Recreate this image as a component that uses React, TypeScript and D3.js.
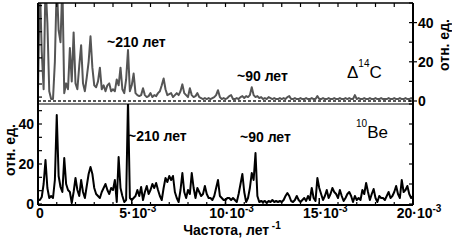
import React from 'react'
import * as d3 from 'd3'

// spectra sampled every 1e-4 year^-1, from 0 to 20e-3
const FREQ_STEP = 1e-4

// Δ14C power (upper panel, rel. units); values above 50 are off scale
const c14 = [
  5, 60, 25, 6, 60, 40, 5, 1, 1, 20,
  60, 36, 30, 60, 4, 9, 6, 27, 10, 35,
  9, 6, 18, 28.5, 9, 5, 12, 20, 33, 17,
  8, 7, 10, 17, 6, 8, 5, 8, 9, 5,
  6, 5, 11, 8, 17, 6, 4, 11, 26, 5,
  8, 14, 4, 3, 2.5, 3, 6.5, 3, 2, 2.5,
  4, 2, 3, 2.5, 4, 5, 8, 11.5, 6, 3,
  3.5, 4, 2, 3, 4, 3, 5, 8.5, 4, 3,
  2, 6.5, 3, 2, 2.5, 4, 2, 1.5, 1, 1.5,
  1, 1.5, 1, 1.5, 2, 3, 5.5, 2, 1, 1.5,
  1, 1.5, 2.5, 3, 1, 1, 1.5, 1, 2, 2.5,
  1.5, 2.5, 2, 3, 7, 3, 2, 2.5, 1.5, 2,
  1, 1.5, 1, 2, 1.5, 1, 1.5, 1, 1, 1.5,
  1, 1.5, 1, 2, 2.5, 1, 1, 1.5, 1, 1,
  1.5, 1, 1, 1.5, 1, 1, 1.5, 1, 1, 2.5,
  1, 1, 1.5, 1, 1, 1.5, 1, 1, 1.5, 1,
  1, 1.5, 1, 1, 1.5, 1, 1.5, 1, 1, 3,
  1, 1.5, 1, 1, 1.5, 1, 1, 1.5, 1, 1,
  1.5, 1, 1, 1.5, 1, 1, 1, 1.5, 1, 1,
  1.5, 1, 1, 1.5, 1, 1, 1.5, 1, 1, 1.5,
  1
]

// 10Be power (lower panel, rel. units)
const be10 = [
  2, 2, 3.5, 10, 22, 8, 3, 4, 3, 12,
  44.5, 14, 8.5, 6, 23, 10, 7, 6, 0.5, 6,
  13, 7, 4, 12, 6, 3, 9, 15, 18.5, 15,
  8, 5, 4, 3, 6, 8, 10, 7, 5, 8,
  7, 12, 1, 23.5, 8, 4, 1, 2, 52, 3,
  2, 3, 4, 7, 4, 8.5, 2, 6, 9, 5,
  7, 10, 8, 10.5, 7, 4, 2, 8, 13, 11,
  14, 12, 14, 6, 3, 1, 7, 15.5, 6, 3,
  7, 5, 15.5, 8, 3, 8, 6, 4, 5, 9,
  5, 3, 3, 2, 4, 8, 12, 4, 3, 2,
  2, 3, 3, 2, 3, 2, 1, 5, 10, 15,
  6, 1, 3, 8, 15.5, 12, 25.5, 4, 1, 1.5,
  1, 1.5, 0.5, 1.5, 1, 2, 1, 1.5, 1, 1.5,
  1, 2, 4, 5.5, 4, 1.5, 1, 2, 4, 2,
  1, 2, 3, 1.5, 4, 2, 8, 3, 1.5, 13,
  8, 5, 2, 4, 7, 3, 5, 8, 6, 5,
  3, 7, 4, 1.5, 3, 5, 6, 4, 1, 4,
  2, 3, 2, 7, 5, 10.5, 6, 2, 5, 7.5,
  3, 1, 4, 3, 3, 2, 4, 6, 3, 4,
  6, 9, 5, 3, 12, 6, 7, 9, 5, 3,
  4
]

const xMajorTicks = [0, 5e-3, 10e-3, 15e-3, 20e-3]
const xMajorLabels = ['0', '5·10', '10·10', '15·10', '20·10']
const xMinorTicks = d3.range(0, 21).map(k => k * 1e-3)
const yRightTicks = [0, 10, 20, 30, 40, 50]
const yLabelTicks = [0, 20, 40]
const yLeftMinor = [0, 20 / 3, 40 / 3, 20, 80 / 3, 100 / 3, 40, 140 / 3]

const W = 452
const H = 240
const L = 38
const R = 413
const TOP = 3
const MID = 104
const BOT = 205
const FONT = 'Arial, "Liberation Sans", sans-serif'

export default function App() {
  const x = d3.scaleLinear().domain([0, 0.02]).range([L, R])
  const yTop = d3.scaleLinear().domain([0, 50]).range([101, TOP])
  const yBot = d3.scaleLinear().domain([0, 50]).range([204, MID])

  const lineTop = d3.line<number>()
    .x((d, i) => x(i * FREQ_STEP))
    .y(d => yTop(d))
  const lineBot = d3.line<number>()
    .x((d, i) => x(i * FREQ_STEP))
    .y(d => yBot(d))

  return (
    <svg width={W} height={H} style={{ position: 'fixed', left: 0, top: 0, background: '#fff' }}
      fontFamily={FONT}>
      <defs>
        <clipPath id="clipTop"><rect x={L} y={TOP} width={R - L} height={MID - TOP} /></clipPath>
        <clipPath id="clipBot"><rect x={L} y={MID} width={R - L} height={BOT - MID} /></clipPath>
      </defs>

      {/* upper panel: dashed zero line and the 14C spectrum */}
      <line x1={L} x2={R} y1={yTop(0)} y2={yTop(0)} stroke="#222" strokeWidth={1.3} strokeDasharray="3,2" />
      <path d={lineTop(c14) || ''} fill="none" stroke="#555" strokeWidth={2}
        strokeLinejoin="round" clipPath="url(#clipTop)" />

      {/* lower panel: 10Be spectrum */}
      <path d={lineBot(be10) || ''} fill="none" stroke="#000" strokeWidth={2}
        strokeLinejoin="round" clipPath="url(#clipBot)" />

      {/* frame */}
      <line x1={L} x2={R} y1={TOP} y2={TOP} stroke="#000" strokeWidth={1.5} />
      <line x1={L} x2={L} y1={TOP} y2={BOT} stroke="#000" strokeWidth={2} />
      <line x1={R} x2={R} y1={TOP} y2={BOT} stroke="#000" strokeWidth={2} />
      <line x1={L} x2={R} y1={MID} y2={MID} stroke="#000" strokeWidth={1.2} />
      <line x1={L} x2={R} y1={BOT} y2={BOT} stroke="#000" strokeWidth={2} />

      {/* top ticks */}
      {xMinorTicks.map(t => (
        <line key={'tt' + t} x1={x(t)} x2={x(t)} y1={TOP} y2={TOP + 4} stroke="#000" strokeWidth={1.2} />
      ))}
      {/* bottom ticks */}
      {xMinorTicks.map(t => (
        <line key={'bt' + t} x1={x(t)} x2={x(t)} y1={BOT} y2={BOT - 3} stroke="#000" strokeWidth={1.2} />
      ))}
      {xMajorTicks.map(t => (
        <line key={'bM' + t} x1={x(t)} x2={x(t)} y1={BOT} y2={BOT - 7} stroke="#000" strokeWidth={1.5} />
      ))}

      {/* left ticks, both panels */}
      {yLeftMinor.map(v => (
        <line key={'lt' + v} x1={L} x2={L + 4} y1={yTop(v + 2)} y2={yTop(v + 2)} stroke="#000" strokeWidth={1.2} />
      ))}
      {yLeftMinor.map(v => (
        <line key={'lb' + v} x1={L} x2={L + 4} y1={yBot(v)} y2={yBot(v)} stroke="#000" strokeWidth={1.2} />
      ))}

      {/* right ticks, both panels */}
      {yRightTicks.map(v => (
        <line key={'rt' + v} x1={R - 4} x2={yLabelTicks.includes(v) ? R + 4 : R} y1={yTop(v)} y2={yTop(v)}
          stroke="#000" strokeWidth={1.2} />
      ))}
      {yRightTicks.map(v => (
        <line key={'rb' + v} x1={R - 4} x2={R} y1={yBot(v)} y2={yBot(v)} stroke="#000" strokeWidth={1.2} />
      ))}

      {/* tick labels */}
      <g fontSize={14} fontWeight="bold" fill="#000">
        {yLabelTicks.map(v => (
          <text key={'ry' + v} x={R + 5} y={yTop(v)} dy="0.35em">{v}</text>
        ))}
        {yLabelTicks.map(v => (
          <text key={'ly' + v} x={L - 4} y={yBot(v)} dy="0.35em" textAnchor="end">{v}</text>
        ))}
        {xMajorTicks.map((t, i) => (
          i === 0
            ? <text key={'xl' + t} x={x(t) + 2} y={218} textAnchor="middle">{xMajorLabels[i]}</text>
            : <text key={'xl' + t} x={x(t) + 6} y={218} textAnchor="middle">
                {xMajorLabels[i]}<tspan fontSize={10} dy={-6}>-3</tspan>
              </text>
        ))}
        <text x={232} y={235} textAnchor="middle">
          Частота, лет<tspan fontSize={10} dy={-6}> -1</tspan>
        </text>
        <text transform="translate(15,150) rotate(-90)" textAnchor="middle">отн. ед.</text>
        <text transform="translate(449,45) rotate(-90)" textAnchor="middle">отн. ед.</text>
      </g>

      {/* annotations */}
      <g fontSize={14} fontWeight="bold" fill="#000">
        <text x={107} y={47}>~210 лет</text>
        <text x={237} y={81}>~90 лет</text>
        <text x={128} y={141}>~210 лет</text>
        <text x={240} y={142}>~90 лет</text>
      </g>
      <g fontSize={17} fill="#000">
        <text x={347} y={78}>Δ<tspan fontSize={10} dy={-11}>14</tspan><tspan dy={11}>C</tspan></text>
        <text x={356} y={138}><tspan fontSize={10} dy={-11}>10</tspan><tspan dy={11}>Be</tspan></text>
      </g>
    </svg>
  )
}
